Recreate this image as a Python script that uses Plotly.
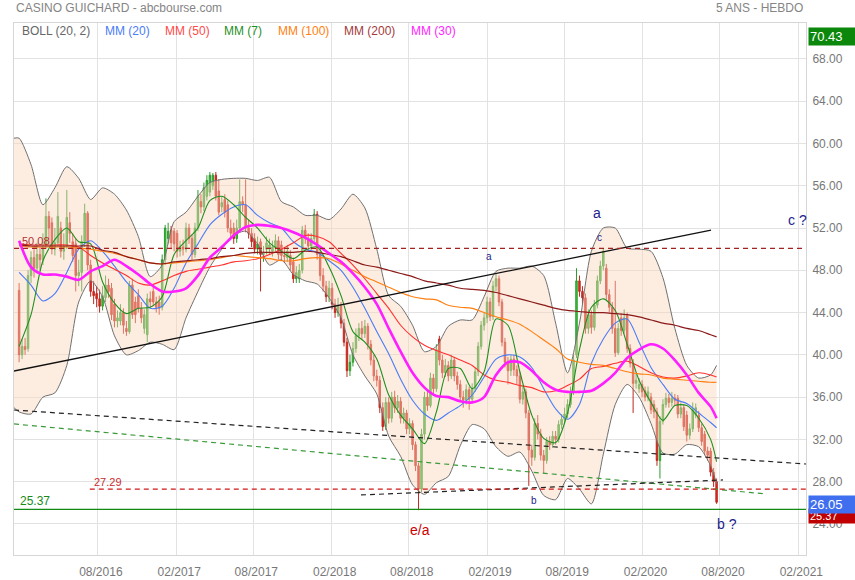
import pandas as pd
import plotly.graph_objects as go

# ---------------- weekly candles (Jan 2016 -> Jul 2020) ----------------
week_dates = pd.date_range("2016-01-29", periods=235, freq="7D")

opens = [
    46.1, 40.0, 40.8, 40.6, 47.5, 49.2, 48.2, 49.5, 49.0, 50.4,
    53.1, 52.5, 50.0, 50.6, 52.0, 49.8, 50.3, 52.5, 50.7, 50.5,
    47.5, 47.8, 50.7, 53.4, 48.5, 46.0, 45.8, 45.3, 44.6, 45.4,
    46.6, 46.3, 44.8, 43.2, 43.2, 44.0, 42.5, 42.2, 46.6, 45.0,
    45.6, 44.4, 42.5, 41.9, 45.3, 46.0, 45.0, 45.0, 44.5, 49.0,
    51.0, 51.8, 51.7, 51.5, 49.8, 50.2, 50.0, 52.0, 51.0, 49.5,
    52.0, 54.5, 54.0, 55.0, 55.4, 56.0, 57.0, 55.5, 54.0, 54.7,
    54.2, 52.0, 52.0, 51.0, 52.0, 54.5, 54.2, 52.0, 51.5, 51.0,
    50.0, 50.7, 49.5, 50.0, 50.0, 49.8, 50.2, 50.8, 50.4, 49.4,
    49.2, 49.4, 48.8, 47.2, 47.2, 48.0, 51.8, 51.0, 50.3, 51.0,
    53.3, 49.5, 47.5, 46.5, 45.5, 46.3, 44.8, 44.0, 44.6, 43.0,
    41.2, 38.5, 39.3, 40.6, 41.8, 42.5, 42.0, 42.7, 41.0, 39.5,
    38.0, 37.6, 35.0, 33.2, 35.5, 34.0, 36.0, 35.0, 35.6, 34.0,
    34.5, 33.0, 33.5, 31.5, 29.5, 27.3, 32.5, 36.0, 35.2, 37.8,
    36.8, 41.5, 39.5, 38.3, 39.0, 38.0, 39.5, 38.0, 37.2, 36.0,
    35.7, 36.7, 35.8, 36.8, 38.4, 40.8, 42.8, 43.5, 45.0, 43.6,
    46.5, 47.2, 45.0, 41.2, 39.3, 38.5, 39.6, 38.6, 38.0, 35.8,
    36.5, 34.5, 31.0, 30.3, 33.5, 32.5, 30.5, 30.0, 31.8, 31.5,
    32.3, 32.0, 33.4, 33.9, 34.4, 35.3, 36.5, 40.0, 47.0, 46.0,
    45.4, 42.5, 43.8, 42.6, 44.7, 47.0, 48.4, 48.2, 45.7, 44.5,
    42.5, 40.2, 43.5, 42.3, 43.7, 40.6, 39.2, 37.3, 36.8, 37.2,
    36.6, 36.0, 36.0, 35.3, 34.6, 30.0, 33.7, 35.3, 35.9, 35.5,
    35.9, 35.9, 34.4, 35.0, 34.3, 32.4, 33.0, 34.3, 34.3, 33.1,
    32.5, 30.9, 30.9, 28.9, 28.0,
]
highs = [
    46.8, 41.5, 41.6, 48.0, 49.8, 50.0, 50.6, 50.2, 51.5, 54.8,
    53.6, 53.0, 52.0, 55.4, 52.6, 51.5, 55.6, 53.5, 51.5, 51.0,
    49.0, 51.3, 54.3, 53.6, 49.0, 47.0, 46.5, 46.2, 46.5, 47.5,
    47.2, 46.8, 45.3, 44.2, 44.8, 44.4, 43.2, 47.0, 47.2, 45.5,
    46.2, 45.0, 44.3, 45.8, 46.0, 46.5, 45.5, 45.6, 49.5, 52.3,
    52.5, 52.2, 52.0, 51.8, 50.8, 50.9, 52.5, 52.4, 51.4, 52.5,
    55.6, 55.2, 56.3, 57.0, 57.3, 57.2, 57.3, 56.6, 55.0, 55.2,
    54.6, 52.8, 52.5, 52.8, 56.6, 55.0, 56.6, 52.8, 52.0, 51.5,
    51.2, 51.0, 50.3, 51.2, 51.0, 50.8, 51.4, 51.2, 50.8, 50.0,
    50.4, 49.9, 49.2, 48.4, 48.6, 52.2, 52.3, 51.5, 51.5, 53.8,
    53.6, 50.0, 48.2, 47.0, 47.0, 46.8, 45.3, 45.4, 45.0, 43.4,
    41.6, 40.0, 41.2, 42.5, 43.0, 43.2, 43.3, 43.0, 41.4, 40.0,
    38.6, 38.0, 35.5, 36.0, 36.0, 36.5, 36.6, 36.2, 36.0, 35.0,
    34.8, 34.0, 33.8, 31.8, 29.8, 33.0, 36.5, 36.6, 38.3, 38.2,
    41.0, 41.8, 40.0, 39.6, 39.4, 40.0, 39.8, 38.4, 37.6, 36.6,
    37.2, 37.0, 37.3, 38.8, 41.2, 43.2, 44.0, 45.5, 45.4, 47.0,
    47.7, 47.5, 45.3, 41.6, 39.8, 40.0, 40.0, 39.0, 38.4, 37.0,
    36.8, 34.8, 31.5, 34.0, 34.3, 33.0, 31.0, 32.2, 32.3, 32.8,
    32.8, 33.8, 34.4, 35.0, 35.8, 37.0, 40.0, 48.2, 47.5, 46.5,
    45.8, 44.3, 44.2, 45.2, 47.5, 48.9, 50.1, 48.6, 46.2, 45.0,
    47.0, 43.0, 43.9, 44.3, 44.0, 41.0, 39.6, 38.2, 37.8, 37.6,
    37.0, 37.0, 36.4, 35.7, 35.0, 34.2, 35.8, 36.4, 36.3, 36.5,
    36.3, 36.2, 35.5, 35.3, 34.7, 33.5, 35.5, 35.4, 34.7, 33.5,
    32.8, 31.3, 31.2, 29.3, 28.3,
]
lows = [
    39.3, 39.6, 40.0, 40.3, 46.8, 47.3, 47.8, 48.0, 48.5, 50.0,
    50.5, 49.5, 49.4, 50.3, 49.2, 49.0, 50.0, 50.6, 48.8, 46.0,
    46.5, 46.0, 50.2, 48.0, 45.5, 44.8, 44.5, 44.0, 44.2, 45.0,
    45.4, 43.3, 42.6, 42.6, 42.8, 42.0, 41.8, 42.0, 43.4, 43.0,
    44.0, 43.0, 42.0, 41.2, 44.5, 44.6, 44.0, 43.8, 44.2, 48.5,
    50.5, 50.0, 49.8, 49.2, 49.3, 49.4, 49.7, 50.5, 49.0, 49.2,
    51.7, 53.4, 53.6, 54.6, 55.0, 55.6, 54.6, 53.2, 53.5, 53.0,
    51.6, 51.0, 50.5, 50.6, 51.7, 53.5, 51.6, 51.0, 50.2, 49.6,
    49.5, 46.0, 48.8, 49.5, 49.5, 49.3, 49.8, 49.0, 48.9, 48.7,
    48.8, 48.0, 46.8, 46.8, 46.8, 47.7, 50.5, 49.8, 49.9, 50.7,
    49.0, 47.0, 46.0, 45.0, 45.0, 44.3, 43.5, 43.6, 42.5, 40.8,
    37.9, 38.0, 38.9, 40.2, 41.3, 41.5, 41.6, 40.5, 39.0, 37.5,
    37.0, 34.5, 32.8, 32.9, 33.5, 33.6, 34.5, 34.5, 33.5, 33.5,
    32.5, 32.5, 31.0, 29.0, 25.3, 27.0, 32.0, 34.7, 35.0, 36.2,
    36.5, 39.0, 37.8, 37.9, 37.5, 37.7, 37.5, 36.7, 35.5, 35.0,
    35.3, 34.8, 35.5, 36.5, 38.0, 40.5, 42.3, 43.0, 43.2, 43.3,
    46.0, 44.6, 40.8, 38.8, 37.2, 38.0, 38.0, 37.2, 35.4, 35.3,
    34.0, 27.6, 29.5, 30.0, 32.0, 30.0, 28.8, 29.7, 31.0, 31.2,
    31.5, 31.7, 33.0, 33.5, 34.0, 35.0, 36.2, 39.7, 45.5, 44.8,
    42.0, 42.0, 42.0, 42.3, 44.4, 46.7, 48.0, 45.2, 44.0, 42.0,
    39.8, 40.0, 41.8, 42.0, 40.2, 38.8, 34.5, 36.8, 36.4, 36.0,
    35.6, 35.6, 34.4, 34.0, 29.5, 28.3, 33.4, 35.0, 35.0, 35.1,
    35.2, 34.0, 34.0, 32.8, 31.8, 32.0, 32.7, 34.0, 32.7, 31.4,
    30.5, 30.0, 28.5, 27.5, 25.9,
]
closes = [
    40.0, 40.8, 40.5, 47.5, 49.2, 48.2, 49.5, 49.0, 50.0, 53.1,
    52.0, 50.0, 50.6, 53.1, 49.8, 50.3, 53.0, 51.5, 49.4, 47.5,
    47.8, 50.7, 53.4, 48.5, 46.0, 45.6, 45.3, 44.6, 45.6, 46.6,
    46.0, 43.8, 43.2, 43.5, 44.0, 42.8, 42.2, 46.6, 43.8, 43.8,
    44.4, 43.5, 43.8, 45.3, 45.0, 45.0, 44.5, 44.4, 49.0, 52.0,
    51.7, 50.6, 50.5, 49.8, 50.2, 50.0, 52.0, 51.0, 49.5, 52.0,
    55.0, 54.0, 55.8, 56.5, 57.0, 57.0, 55.0, 53.5, 54.4, 53.5,
    52.0, 51.5, 51.0, 52.0, 54.5, 54.2, 52.0, 51.5, 50.7, 50.0,
    50.5, 49.5, 49.6, 50.6, 50.4, 50.2, 50.8, 49.5, 49.4, 49.3,
    49.8, 48.5, 47.2, 47.8, 48.0, 51.8, 51.0, 50.3, 51.0, 53.3,
    49.5, 47.5, 46.5, 45.5, 46.3, 44.8, 44.0, 44.6, 43.0, 41.2,
    38.5, 39.3, 40.6, 41.8, 42.5, 42.0, 42.7, 41.0, 39.5, 38.0,
    37.6, 35.0, 33.2, 35.5, 34.0, 36.0, 35.0, 35.6, 34.0, 34.5,
    33.0, 33.5, 31.5, 29.5, 27.3, 32.5, 36.0, 35.2, 37.8, 36.8,
    40.5, 39.5, 38.3, 39.0, 38.0, 39.5, 38.0, 37.2, 36.0, 35.7,
    36.7, 35.8, 36.8, 38.4, 40.8, 42.8, 43.5, 45.0, 43.6, 46.5,
    47.2, 45.0, 41.2, 39.3, 38.5, 39.6, 38.6, 38.0, 35.8, 36.5,
    34.5, 31.0, 30.3, 33.5, 32.5, 30.5, 30.0, 31.8, 31.5, 32.3,
    32.0, 33.4, 33.9, 34.4, 35.3, 36.5, 39.5, 47.0, 46.0, 45.4,
    42.5, 43.8, 42.6, 44.7, 47.0, 48.4, 49.8, 45.7, 44.5, 42.5,
    40.2, 42.5, 42.3, 43.5, 40.6, 39.2, 37.3, 37.6, 37.2, 36.5,
    36.0, 36.5, 34.8, 34.6, 30.0, 33.7, 35.3, 35.9, 35.5, 35.9,
    35.7, 34.4, 35.0, 33.2, 32.4, 33.0, 34.8, 35.0, 33.1, 31.8,
    30.9, 30.5, 28.9, 28.0, 26.05,
]

# ---------------- indicators, read every 4 weeks ----------------
sample_idx = list(range(0, 233, 4)) + [234]
sample_dates = list(week_dates[sample_idx])
band_dates = [pd.Timestamp("2016-01-17")] + sample_dates

mm7 = [40.8, 43.8, 48.9, 50.9, 52.0, 50.7, 50.5, 46.9, 44.9, 43.9,
       44.4, 44.5, 45.5, 49.5, 50.8, 52.0, 54.6, 55.0, 54.2, 53.0,
       52.0, 50.6, 49.8, 49.1, 49.9, 50.2, 48.3, 45.6, 42.2, 41.2,
       39.6, 36.2, 34.3, 33.0, 31.6, 34.6, 38.7, 38.7, 36.8, 38.4,
       43.4, 42.8, 38.4, 34.3, 32.1, 31.7, 34.5, 40.5, 44.5, 45.3,
       44.2, 41.0, 37.6, 35.5, 33.8, 35.2, 35.2, 34.0, 32.0, 29.9]
mm20 = [47.8, 46.6, 45.1, 45.8, 47.8, 50.0, 50.8, 49.8, 48.4, 46.9,
        45.7, 44.4, 44.6, 46.3, 48.7, 50.5, 52.3, 53.3, 54.0, 54.2,
        53.2, 52.5, 52.0, 50.7, 50.0, 49.7, 48.9, 48.0, 46.4, 44.4,
        42.2, 40.1, 37.7, 35.7, 34.4, 33.8, 34.5, 35.2, 36.2, 37.9,
        39.6, 40.0, 39.8, 38.8, 36.8, 34.9, 33.9, 35.3, 39.2, 41.5,
        43.0, 43.4, 41.2, 38.8, 37.2, 35.8, 35.4, 34.5, 33.6, 33.1]
mm30 = [50.8, 48.3, 47.6, 47.6, 47.4, 47.1, 47.9, 48.4, 49.0, 48.4,
        47.6, 46.7, 46.0, 46.0, 46.3, 47.5, 49.2, 50.2, 51.3, 52.1,
        52.3, 52.2, 52.0, 51.6, 51.1, 50.4, 49.6, 48.8, 47.7, 46.4,
        44.8, 42.5, 40.3, 38.3, 36.9, 36.1, 36.0, 35.6, 35.5, 36.0,
        38.1, 39.3, 39.3, 38.5, 37.4, 36.7, 36.5, 36.5, 36.6, 37.3,
        38.3, 39.7, 40.5, 41.0, 40.6, 39.5, 38.1, 36.4, 35.1, 34.0]
mm50 = [50.5, 50.4, 50.4, 50.4, 50.4, 50.2, 49.4, 48.7, 48.1, 47.5,
        46.8, 46.6, 47.0, 47.5, 47.9, 48.1, 48.3, 48.5, 48.8, 48.9,
        49.1, 49.5, 50.0, 50.6, 51.3, 51.2, 50.7, 49.6, 48.5, 47.2,
        45.8, 44.4, 42.8, 41.7, 40.9, 40.4, 40.0, 39.5, 39.0, 38.1,
        37.6, 37.4, 37.1, 36.9, 36.5, 36.6, 37.1, 37.7, 38.7, 38.9,
        39.2, 39.4, 38.9, 38.3, 37.9, 37.8, 38.0, 38.3, 38.1, 37.9]
mm100 = [50.3, 50.2, 50.2, 50.2, 50.2, 50.1, 50.0, 49.8, 49.6, 49.3,
         49.0, 48.7, 48.6, 48.7, 48.8, 48.9, 49.0, 49.2, 49.4, 49.3,
         49.2, 49.1, 48.9, 48.9, 49.1, 49.2, 49.1, 48.6, 48.0, 47.4,
         46.9, 46.4, 45.9, 45.5, 45.3, 45.2, 44.7, 44.5, 44.4, 44.0,
         43.6, 43.3, 42.9, 42.2, 41.4, 40.6, 39.6, 39.3, 39.1, 39.0,
         38.7, 38.4, 38.2, 38.1, 37.8, 37.7, 37.6, 37.5, 37.4, 37.4]
mm200 = [50.4, 50.3, 50.3, 50.3, 50.3, 50.3, 50.3, 49.9, 49.7, 49.3,
         49.0, 48.7, 48.6, 48.8, 48.9, 49.0, 49.1, 49.3, 49.4, 49.6,
         49.7, 49.7, 49.7, 49.7, 49.8, 49.7, 49.5, 49.3, 48.9, 48.5,
         48.3, 48.0, 47.7, 47.4, 47.0, 46.8, 46.6, 46.3, 46.2, 46.1,
         45.9, 45.6, 45.3, 45.0, 44.7, 44.4, 44.2, 44.1, 44.0, 44.0,
         43.9, 43.8, 43.6, 43.3, 43.0, 42.8, 42.5, 42.3, 41.9, 41.7]
boll_up = [60.5, 60.5, 58.0, 54.2, 55.8, 57.8, 56.7, 54.7, 55.8, 55.2, 53.7,
           51.2, 47.4, 48.5, 52.6, 53.5, 55.0, 56.3, 56.6, 56.7, 56.7,
           56.5, 56.8, 54.5, 54.0, 53.2, 53.2, 52.8, 53.8, 55.2, 53.9,
           50.0, 45.6, 44.6, 42.8, 40.3, 40.8, 42.7, 43.3, 43.3, 45.5,
           47.9, 48.2, 48.2, 48.4, 47.5, 43.0, 38.3, 43.0, 49.8, 52.0,
           52.0, 50.1, 50.0, 49.8, 47.3, 42.5, 39.0, 37.8, 38.1, 39.0]
boll_low = [35.0, 34.6, 34.4, 36.0, 36.4, 39.0, 45.0, 47.0, 45.5, 41.8, 40.0,
            40.4, 41.2, 41.0, 40.5, 43.5, 46.0, 48.3, 50.0, 51.3, 51.7,
            50.5, 48.5, 49.0, 47.6, 47.0, 46.7, 45.4, 43.5, 40.0, 38.0,
            36.3, 32.3, 30.4, 27.7, 26.8, 27.9, 28.5, 31.4, 33.4, 33.0,
            31.3, 30.4, 30.8, 29.0, 26.7, 26.3, 28.3, 27.3, 25.9, 30.6,
            35.3, 37.2, 36.0, 33.5, 30.7, 30.6, 31.5, 31.3, 29.5, 27.8]

# ---------------- hand-drawn analysis lines ----------------
trend_up_dates = ["2016-01-17", "2020-07-11"]
trend_up_vals = [38.47, 51.81]
trend_dn_dates = ["2016-01-17", "2021-02-19"]
trend_dn_vals = [34.78, 29.67]
trend_green_dates = ["2016-01-17", "2020-11-19"]
trend_green_vals = [33.46, 26.83]
trend_low_dates = ["2018-04-11", "2020-08-08"]
trend_low_vals = [26.74, 28.16]
level_5008_dates = ["2016-01-17", "2021-02-19"]
level_2729_dates = ["2016-07-13", "2021-02-19"]
level_2537_dates = ["2016-01-17", "2021-02-19"]

tick_dates = ["2016-08-01", "2017-02-01", "2017-08-01", "2018-02-01", "2018-08-01",
              "2019-02-01", "2019-08-01", "2020-02-01", "2020-08-01", "2021-02-01"]
tick_text = ["08/2016", "02/2017", "08/2017", "02/2018", "08/2018",
             "02/2019", "08/2019", "02/2020", "08/2020", "02/2021"]
price_ticks = [24, 28, 32, 36, 40, 44, 48, 52, 56, 60, 64, 68]

FONT = "Liberation Sans, Arial, sans-serif"
fig = go.Figure()

# Bollinger band
fig.add_trace(go.Scatter(x=band_dates, y=boll_low, mode="lines",
                         line=dict(color="#707070", width=1, shape="spline", smoothing=0.7),
                         hoverinfo="skip"))
fig.add_trace(go.Scatter(x=band_dates, y=boll_up, mode="lines", fill="tonexty",
                         fillcolor="rgba(250,212,186,0.45)",
                         line=dict(color="#707070", width=1, shape="spline", smoothing=0.7),
                         hoverinfo="skip"))

# candles
fig.add_trace(go.Candlestick(
    x=week_dates, open=opens, high=highs, low=lows, close=closes,
    increasing=dict(fillcolor="#33cc33", line=dict(color="#2e9a2e", width=1)),
    decreasing=dict(fillcolor="#e8261c", line=dict(color="#c0281e", width=1)),
    whiskerwidth=0, hoverinfo="skip"))

# moving averages
ma_specs = [
    (mm20, "#4a7cf7", 1.1),
    (mm50, "#ff3030", 1.1),
    (mm7, "#1f8f1f", 1.1),
    (mm100, "#ff7f10", 1.1),
    (mm200, "#8b1a1a", 1.2),
    (mm30, "#ff1eff", 2.6),
]
for vals, col, w in ma_specs:
    fig.add_trace(go.Scatter(x=sample_dates, y=vals, mode="lines",
                             line=dict(color=col, width=w, shape="spline", smoothing=0.8),
                             hoverinfo="skip"))

# analysis lines
DASH = "5px,4px"
fig.add_trace(go.Scatter(x=trend_up_dates, y=trend_up_vals, mode="lines",
                         line=dict(color="#111111", width=1.3), hoverinfo="skip"))
fig.add_trace(go.Scatter(x=trend_dn_dates, y=trend_dn_vals, mode="lines",
                         line=dict(color="#222222", width=1.2, dash=DASH), hoverinfo="skip"))
fig.add_trace(go.Scatter(x=trend_green_dates, y=trend_green_vals, mode="lines",
                         line=dict(color="#3a9a3a", width=1.2, dash=DASH), hoverinfo="skip"))
fig.add_trace(go.Scatter(x=trend_low_dates, y=trend_low_vals, mode="lines",
                         line=dict(color="#222222", width=1.2, dash=DASH), hoverinfo="skip"))
fig.add_trace(go.Scatter(x=level_5008_dates, y=[50.08, 50.08], mode="lines",
                         line=dict(color="#a52020", width=1.2, dash=DASH), hoverinfo="skip"))
fig.add_trace(go.Scatter(x=level_2729_dates, y=[27.29, 27.29], mode="lines",
                         line=dict(color="#d01818", width=1.2, dash=DASH), hoverinfo="skip"))
fig.add_trace(go.Scatter(x=level_2537_dates, y=[25.37, 25.37], mode="lines",
                         line=dict(color="#138a13", width=1.3), hoverinfo="skip"))

ann = []
# header
ann.append(dict(text="CASINO GUICHARD - abcbourse.com", xref="paper", yref="paper",
                x=0, y=1.028, xanchor="left", yanchor="middle", showarrow=False,
                font=dict(family=FONT, size=12, color="#858585")))
ann.append(dict(text="5 ANS - HEBDO", xref="paper", yref="paper",
                x=0.9987, y=1.028, xanchor="right", yanchor="middle", showarrow=False,
                font=dict(family=FONT, size=12, color="#858585")))
# legend row
legend_items = [("BOLL (20, 2)", "#666666", 20), ("MM (20)", "#4a7cf7", 103),
                ("MM (50)", "#ff4a4a", 163), ("MM (7)", "#1f8f1f", 222),
                ("MM (100)", "#ff7f10", 276), ("MM (200)", "#a33a3a", 342),
                ("MM (30)", "#ff1eff", 409)]
for txt, col, px in legend_items:
    ann.append(dict(text=txt, xref="paper", yref="paper", x=(px - 14) / 792, y=0.985,
                    xanchor="left", yanchor="middle", showarrow=False,
                    font=dict(family=FONT, size=12, color=col)))
# level labels
ann.append(dict(text="50.08", x="2016-01-31", y=50.08, xanchor="left", yanchor="bottom",
                showarrow=False, yshift=-1, font=dict(family=FONT, size=11, color="#b03030")))
ann.append(dict(text="27.29", x="2016-07-17", y=27.29, xanchor="left", yanchor="bottom",
                showarrow=False, yshift=-1, font=dict(family=FONT, size=11, color="#c83030")))
ann.append(dict(text="25.37", x="2016-01-26", y=25.37, xanchor="left", yanchor="bottom",
                showarrow=False, yshift=-1, font=dict(family=FONT, size=12, color="#1a8a1a")))
# wave labels
NAVY = "#1c1c8c"
wave_labels = [("a", "2019-10-17", 53.42, 14, NAVY), ("c ?", "2021-01-29", 52.76, 14, NAVY),
               ("a", "2019-02-05", 49.26, 10, NAVY), ("c", "2019-10-22", 51.15, 10, NAVY),
               ("b", "2019-05-22", 26.26, 10, NAVY), ("b ?", "2020-08-17", 24.0, 14, NAVY),
               ("e/a", "2018-08-27", 23.43, 14, "#cc0000")]
for txt, xd, yv, sz, col in wave_labels:
    ann.append(dict(text=txt, x=xd, y=yv, xanchor="center", yanchor="middle",
                    showarrow=False, font=dict(family=FONT, size=sz, color=col)))
# price badges on the axis (the last-price badge sits over the support badge)
ann.append(dict(text="70.43", xref="paper", yref="y", x=1.0025, y=70.43, yshift=-3,
                xanchor="left", yanchor="middle", showarrow=False, align="left",
                width=44, height=15, bgcolor="#0b870b", borderpad=1,
                font=dict(family=FONT, size=13, color="white")))
ann.append(dict(text="25.37", xref="paper", yref="y", x=1.0025, y=25.37, yshift=-7,
                xanchor="left", yanchor="middle", showarrow=False, align="left",
                width=44, height=12, bgcolor="#c00000", borderpad=1,
                font=dict(family=FONT, size=11, color="white")))
ann.append(dict(text="26.05", xref="paper", yref="y", x=1.0025, y=26.05, yshift=-2,
                xanchor="left", yanchor="middle", showarrow=False, align="left",
                width=44, height=15, bgcolor="#3f6fef", borderpad=1,
                font=dict(family=FONT, size=13, color="white")))

fig.update_layout(
    width=855, height=580, autosize=False,
    margin=dict(l=14, r=49, t=23, b=25),
    paper_bgcolor="white", plot_bgcolor="white",
    showlegend=False,
    annotations=ann,
    font=dict(family=FONT, size=12, color="#777777"),
    xaxis=dict(type="date", range=["2016-01-17", "2021-02-19"],
               tickvals=tick_dates, ticktext=tick_text, automargin=False,
               showgrid=True, gridcolor="#e2e2e2", gridwidth=1,
               showline=True, linecolor="#d6d6d6", mirror=True,
               ticks="", ticklabelstandoff=6, ticklabelshift=3,
               tickfont=dict(family=FONT, size=12, color="#777777"),
               rangeslider=dict(visible=False), zeroline=False),
    yaxis=dict(side="right", range=[21.06, 71.4], tickvals=price_ticks,
               tickformat=".2f", automargin=False,
               showgrid=True, gridcolor="#e2e2e2", gridwidth=1,
               showline=True, linecolor="#d6d6d6", mirror=True,
               ticks="", ticklabelstandoff=3,
               tickfont=dict(family=FONT, size=12, color="#777777"), zeroline=False),
)

page_fix = (
    "var h=document.documentElement,b=document.body;"
    "h.style.margin='0';h.style.padding='0';h.style.overflow='hidden';"
    "b.style.margin='0';b.style.padding='0';b.style.overflow='hidden';"
)
fig.write_html("out.html",
               config={"displayModeBar": False, "responsive": False},
               post_script=page_fix)
